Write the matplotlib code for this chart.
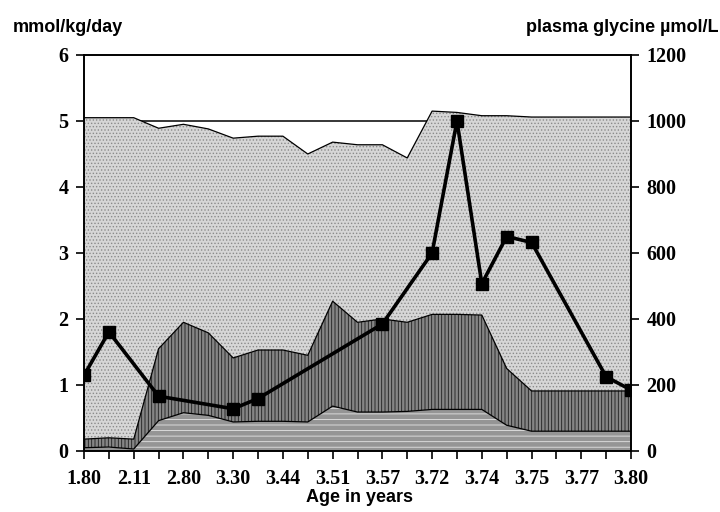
import numpy as np
import matplotlib
matplotlib.use("Agg")
import matplotlib.pyplot as plt

# =========================
# DATA
# =========================

age_labels = ["1.80", "2.11", "2.80", "3.30", "3.44", "3.51",
              "3.57", "3.72", "3.74", "3.75", "3.77", "3.80"]

# mmol/kg/day, three stacked bands (bottom to top), one value per visit
band_bottom = [0.05, 0.06, 0.03, 0.46, 0.58, 0.54, 0.44, 0.45, 0.45, 0.44, 0.68, 0.59,
               0.59, 0.60, 0.63, 0.63, 0.63, 0.39, 0.30, 0.30, 0.30, 0.30, 0.30]
band_middle = [0.13, 0.14, 0.15, 1.09, 1.37, 1.25, 0.97, 1.08, 1.08, 1.01, 1.59, 1.36,
               1.41, 1.35, 1.44, 1.44, 1.43, 0.86, 0.61, 0.61, 0.61, 0.61, 0.61]
band_top = [4.87, 4.85, 4.87, 3.34, 3.00, 3.09, 3.33, 3.24, 3.24, 3.05, 2.41, 2.69,
            2.64, 2.49, 3.08, 3.06, 3.02, 3.83, 4.15, 4.15, 4.15, 4.15, 4.15]

# plasma glycine (umol/L), measured at some visits only
glycine_visit = [0, 1, 3, 6, 7, 12, 14, 15, 16, 17, 18, 21, 22]
glycine = [229, 361, 166, 128, 159, 385, 600, 1000, 507, 650, 632, 225, 185]

reference_level = 5

# =========================
# STYLE
# =========================

plt.rcParams["hatch.linewidth"] = 0.6
tick_font = {"family": "Liberation Serif", "weight": "bold", "size": 14.5}
label_font = {"family": "Liberation Sans", "weight": "bold", "size": 13}

visits = np.arange(len(band_bottom))
layers = [band_bottom, band_middle, band_top]
bounds = np.cumsum(layers, axis=0)

fig = plt.figure(figsize=(7.2, 5.12), dpi=100)
ax = fig.add_axes([84 / 720, 61 / 512, 547 / 720, 396 / 512])

ax.axhline(reference_level, color="black", lw=1.1, zorder=0.5)

faces = ["#959595", "#858585", "#d6d6d6"]
hatches = ["---", "|||||", "....."]
hatch_cols = ["#e4e4e4", "#1e1e1e", "#8a8a8a"]
lower = np.zeros(len(visits))
for i in range(3):
    ax.fill_between(visits, lower, bounds[i], facecolor=faces[i],
                    hatch=hatches[i], edgecolor=hatch_cols[i], lw=0, zorder=1)
    ax.plot(visits, bounds[i], color="black", lw=0.9, zorder=2)
    lower = bounds[i]

ax.set_xlim(0, len(visits) - 1)
ax.set_ylim(0, 6)
ax.set_yticks(range(7))
ax.set_xticks(visits)
xt = [""] * len(visits)
xt[::2] = age_labels
ax.set_xticklabels(xt)

ax2 = ax.twinx()
ax2.plot(glycine_visit, glycine, color="black", lw=2.6, marker="s",
         markersize=8.5, zorder=3)
ax2.set_ylim(0, 1200)
ax2.set_yticks(range(0, 1201, 200))

for a in (ax, ax2):
    for s in a.spines.values():
        s.set_linewidth(1.2)
    a.tick_params(direction="out", length=6, width=1.2, pad=5)
    for lab in a.get_xticklabels() + a.get_yticklabels():
        lab.set_fontproperties(matplotlib.font_manager.FontProperties(**tick_font))
ax.tick_params(axis="x", pad=7)

fig.text(13 / 720, 1 - 27 / 512, "mmol/kg/day", va="center", ha="left", **label_font)
fig.text(719 / 720, 1 - 27 / 512, "plasma glycine µmol/L", va="center", ha="right", **label_font)
fig.text(360 / 720, 1 - 497 / 512, "Age in years", va="center", ha="center", **label_font)

fig.savefig("out.png", dpi=100)
